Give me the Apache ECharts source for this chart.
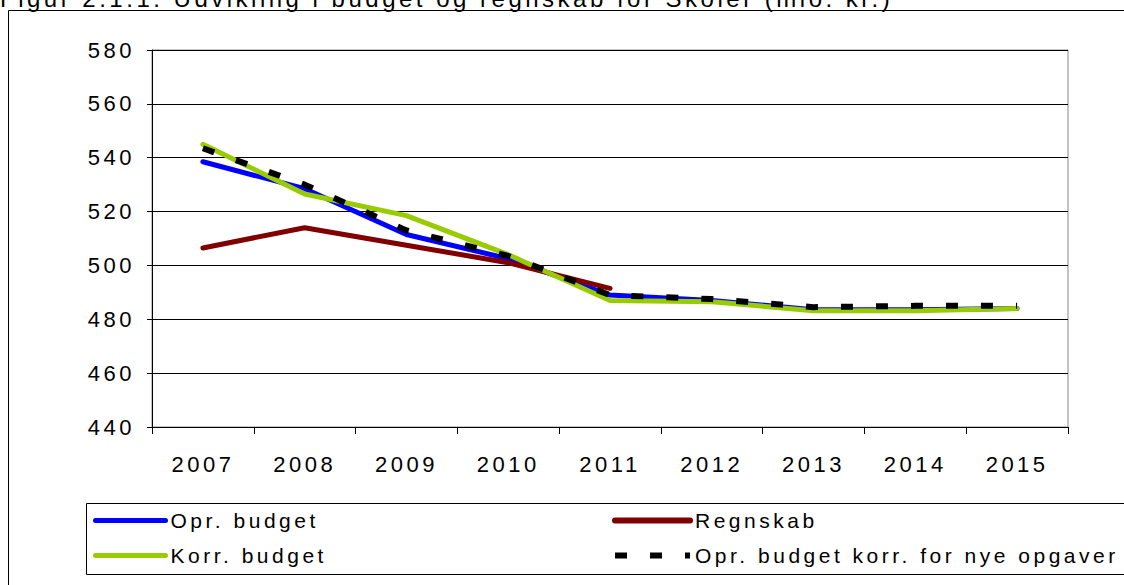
<!DOCTYPE html>
<html><head><meta charset="utf-8">
<script src="https://cdn.jsdelivr.net/npm/echarts@6/dist/echarts.min.js"></script>
<style>html,body{margin:0;padding:0;background:#fff}#c{width:1124px;height:585px}
#c svg text{letter-spacing:3.5px}</style>
</head><body><div id="c"></div>
<script>
var years = ['2007','2008','2009','2010','2011','2012','2013','2014','2015'];
var oprBudget = [538.5, 528.5, 511.5, 502.5, 489, 487, 483.5, 483.5, 484];
var regnskab = [506.5, 514, 507.5, 501, 491.5, null, null, null, null];
var korrBudget = [545, 526.5, 518.5, 504, 487, 486.5, 483.2, 483.2, 484];
var oprKorr = [543.5, 530, 513, 503.5, 489, 487.5, 484.5, 485, 485];
var yTicks = {min: 440, max: 580, interval: 20};
var titleText = 'Figur 2.1.1: Udvikling i budget og regnskab for Skoler (mio. kr.)';

var FONT = 'Liberation Sans';
var FS = 22;
var chart = echarts.init(document.getElementById('c'), null, {renderer: 'svg'});
function line(name, data, color, dash) {
  return {
    name: name, type: 'line', data: data, symbol: 'none', showSymbol: false,
    animation: false, connectNulls: false,
    lineStyle: dash ? {color: color, width: 6, type: [12, 23], cap: 'butt'} : {color: color, width: 5, cap: 'round', join: 'round'},
    itemStyle: {color: color}
  };
}
chart.setOption({
  animation: false,
  backgroundColor: '#fff',
  grid: {left: 152, right: 56, top: 50, bottom: 158, show: true, borderColor: '#888', borderWidth: 1, backgroundColor: 'transparent'},
  xAxis: {
    type: 'category', data: years, boundaryGap: true,
    axisLine: {lineStyle: {color: '#000', width: 1}},
    axisTick: {show: true, length: 7, lineStyle: {color: '#000'}},
    axisLabel: {color: '#000', fontFamily: FONT, fontSize: FS, margin: 26}
  },
  yAxis: {
    type: 'value', min: yTicks.min, max: yTicks.max, interval: yTicks.interval,
    axisLine: {show: true, lineStyle: {color: '#000', width: 1}},
    axisTick: {show: true, length: 5, lineStyle: {color: '#000'}},
    axisLabel: {color: '#000', fontFamily: FONT, fontSize: FS, margin: 17},
    splitLine: {lineStyle: {color: '#000', width: 1}}
  },
  legend: [
    {data: ['Opr. budget', 'Korr. budget'], orient: 'vertical', left: 88, top: 505, itemWidth: 70, itemHeight: 14, itemGap: 14,
     itemStyle: {opacity: 0}, lineStyle: {width: 5, cap: 'round'},
     textStyle: {fontFamily: FONT, fontSize: 21, color: '#000'}},
    {data: ['Regnskab', 'Opr. budget korr. for nye opgaver'], orient: 'vertical', left: 607, top: 505, itemWidth: 75, itemHeight: 14, itemGap: 14,
     itemStyle: {opacity: 0}, lineStyle: {width: 6},
     textStyle: {fontFamily: FONT, fontSize: 21, color: '#000'}}
  ],
  graphic: [
    {type: 'text', left: 0, top: -14, style: {text: titleText, font: '24px "Liberation Sans"', fill: '#000'}},
    {type: 'polyline', shape: {points: [[8.5, 585], [8.5, 10.5], [1124, 10.5]]}, style: {stroke: '#000', lineWidth: 1, fill: null}},
    {type: 'rect', shape: {x: 86.5, y: 503.5, width: 1050, height: 71}, style: {stroke: '#000', lineWidth: 1, fill: null}}
  ],
  series: [
    line('Opr. budget', oprBudget, '#0000ff'),
    line('Regnskab', regnskab, '#800000'),
    line('Korr. budget', korrBudget, '#99cc00'),
    line('Opr. budget korr. for nye opgaver', oprKorr, '#000000', true)
  ]
});
</script></body></html>
